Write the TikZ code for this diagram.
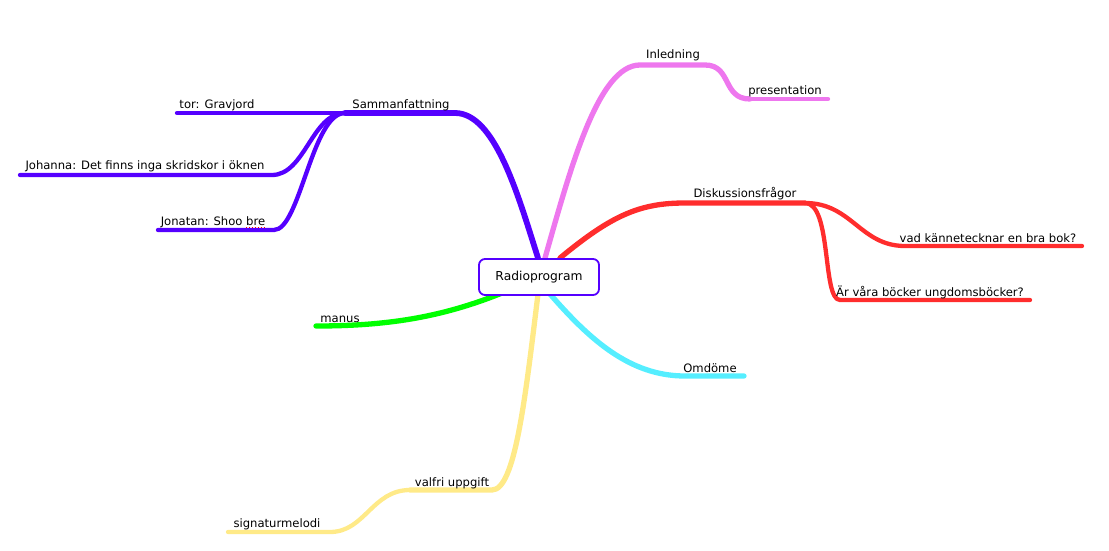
\documentclass[tikz,border=0pt]{standalone}
\usepackage{fontspec}
\setmainfont{DejaVu Sans}
\definecolor{cblue}{HTML}{5500FF}
\definecolor{cpink}{HTML}{EE77EE}
\definecolor{cred}{HTML}{FF2D2D}
\definecolor{cgreen}{HTML}{00FF00}
\definecolor{ccyan}{HTML}{55EEFF}
\definecolor{cyellow}{HTML}{FFEA88}
\tikzset{
  br/.style={line width=5.3pt, line cap=round, line join=round},
  sub/.style={line width=4.3pt, line cap=round, line join=round},
  lbl/.style={font=\fontsize{11.6}{13}\selectfont, inner sep=0pt, anchor=base},
  rootbox/.style={draw=cblue, line width=1.8pt, rounded corners=6pt, fill=white,
    minimum width=120pt, minimum height=36pt, font=\fontsize{12.3}{14}\selectfont}
}
\begin{document}
\begin{tikzpicture}[x=1pt,y=-1pt]
\useasboundingbox (0,0) rectangle (1109,551);
% coordinates
\coordinate (rS) at (538,258);
\coordinate (rI) at (545,258);
\coordinate (rD) at (560,258);
\coordinate (rM) at (502,293);
\coordinate (rO) at (550,294);
\coordinate (rV) at (538,294);
\coordinate (S1) at (455,113);
\coordinate (S2) at (345,113);
\coordinate (T0) at (177,113);
\coordinate (J1) at (272,175);
\coordinate (J0) at (20,175);
\coordinate (N1) at (274,230);
\coordinate (N0) at (158,230);
\coordinate (I1) at (640,65);
\coordinate (I2) at (705,65);
\coordinate (P1) at (750,99);
\coordinate (P0) at (828,99);
\coordinate (D1) at (685,203);
\coordinate (D2) at (805,203);
\coordinate (K1) at (905,246);
\coordinate (K0) at (1082,246);
\coordinate (U1) at (840,300);
\coordinate (U0) at (1030,300);
\coordinate (M0) at (316,326);
\coordinate (O1) at (685,376);
\coordinate (O0) at (744,376);
\coordinate (V1) at (492,490);
\coordinate (V2) at (410,490);
\coordinate (G1) at (330,532);
\coordinate (G0) at (228,532);
% Sammanfattning
\draw[br, line width=5.8pt, cblue] (rS) .. controls (518,195) and (495,113) .. (S1) -- (S2);
\draw[sub, cblue] (S2) -- (T0);
\draw[sub, cblue] (S2) .. controls (312,113) and (305,175) .. (J1) -- (J0);
\draw[sub, cblue] (S2) .. controls (312,113) and (300,230) .. (N1) -- (N0);
% Inledning
\draw[br, cpink] (rI) .. controls (570,170) and (598,65) .. (I1) -- (I2) .. controls (732,65) and (722,99) .. (P1);
\draw[sub, cpink] (P1) -- (P0);
% Diskussionsfragor
\draw[br, cred] (rD) .. controls (612,215) and (640,203) .. (D1) -- (D2);
\draw[sub, cred] (D2) .. controls (852,203) and (860,246) .. (K1) -- (K0);
\draw[sub, cred] (D2) .. controls (832,203) and (822,300) .. (U1) -- (U0);
% manus
\draw[br, cgreen] (rM) .. controls (440,318) and (385,326) .. (M0);
% Omdome
\draw[br, ccyan] (rO) .. controls (590,340) and (630,376) .. (O1) -- (O0);
% valfri
\draw[br, cyellow] (rV) .. controls (525,400) and (515,490) .. (V1) -- (V2);
\draw[sub, cyellow] (V2) .. controls (372,490) and (365,532) .. (G1) -- (G0);
% root
\node[rootbox] (root) at (539,277) {Radioprogram};
% labels
\node[lbl] (lS) at (401,108) {Sammanfattning};
\node[lbl] (lT) at (217,108) {tor: Gravjord};
\node[lbl] (lJ) at (145,169) {Johanna: Det finns inga skridskor i öknen};
\node[lbl] (lN) at (213,225) {Jonatan: Shoo bre};
\node[lbl] (lI) at (673,59) {Inledning};
\node[lbl] (lP) at (785,95) {presentation};
\node[lbl] (lD) at (745,197) {Diskussionsfrågor};
\node[lbl] (lK) at (988,242) {vad kännetecknar en bra bok?};
\node[lbl] (lU) at (930,296) {Är våra böcker ungdomsböcker?};
\node[lbl] (lM) at (340,322) {manus};
\node[lbl] (lO) at (710,372) {Omdöme};
\node[lbl] (lV) at (452,486) {valfri uppgift};
\node[lbl] (lG) at (277,527) {signaturmelodi};
\draw[red, line width=0.9pt, dotted] (lN.base east) ++(-19,2.5) -- ++(19,0);
\end{tikzpicture}
\end{document}
